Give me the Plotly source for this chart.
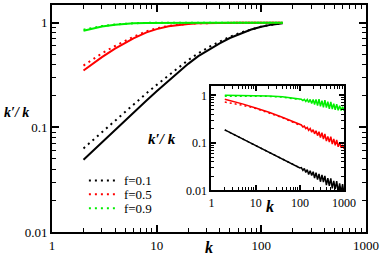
import plotly.graph_objects as go

# ---------------- main panel data ----------------
k_main = [2, 3, 4, 5, 6, 8, 10, 13, 16, 20, 25, 32, 40, 50, 63, 80, 100, 125, 160]
main_f01_line = [0.049, 0.072, 0.095, 0.118, 0.139, 0.181, 0.221, 0.277, 0.330, 0.405, 0.48, 0.56,
                 0.635, 0.715, 0.79, 0.862, 0.915, 0.96, 0.99]
main_f01_dots = [0.063, 0.090, 0.117, 0.142, 0.166, 0.212, 0.255, 0.315, 0.37, 0.44, 0.51, 0.59,
                 0.66, 0.735, 0.805, 0.87, 0.92, 0.96, 0.99]
main_f05_line = [0.35, 0.47, 0.565, 0.645, 0.71, 0.81, 0.87, 0.925, 0.955, 0.975, 0.988, 0.995,
                 0.998, 1.0, 1.0, 1.0, 1.0, 1.0, 1.0]
main_f05_dots = [0.39, 0.51, 0.60, 0.675, 0.735, 0.83, 0.885, 0.935, 0.96, 0.98, 0.99, 0.996,
                 0.999, 1.0, 1.0, 1.0, 1.0, 1.0, 1.0]
main_f09_line = [0.84, 0.92, 0.96, 0.98, 0.99, 0.997, 1.0, 1.0, 1.0, 1.0, 1.0, 1.0,
                 1.0, 1.0, 1.0, 1.0, 1.0, 1.0, 1.0]
main_f09_dots = [0.86, 0.93, 0.965, 0.982, 0.99, 0.998, 1.0, 1.0, 1.0, 1.0, 1.0, 1.0,
                 1.0, 1.0, 1.0, 1.0, 1.0, 1.0, 1.0]

# ---------------- inset data ----------------
k_inset = [2, 3, 5, 10, 20, 40, 70,
           100, 108, 117, 126, 136, 147, 158, 171, 185, 200, 215, 232, 251, 271, 292, 316,
           341, 368, 398, 429, 464, 501, 541, 584, 631, 681, 735, 794, 857, 925, 1000]
ins_f01_line = [0.187, 0.154, 0.122, 0.0877, 0.0634, 0.0458, 0.0353,
                0.0297, 0.0301, 0.0263, 0.0288, 0.0239, 0.0273, 0.0215, 0.0259, 0.0205, 0.0247,
                0.0182, 0.0236, 0.0168, 0.0223, 0.0152, 0.0211, 0.0150, 0.0201, 0.0129, 0.0180,
                0.0124, 0.0178, 0.0110, 0.0158, 0.0106, 0.0157, 0.0093, 0.0140, 0.0091, 0.0136,
                0.0083]
ins_f05_line = [0.83, 0.76, 0.66, 0.54, 0.44, 0.345, 0.275,
                0.240, 0.238, 0.216, 0.2255, 0.1987, 0.2115, 0.1827, 0.2002, 0.1679, 0.1894,
                0.1544, 0.1792, 0.1419, 0.1709, 0.1289, 0.1628, 0.1197, 0.1538, 0.1088, 0.1370,
                0.1033, 0.1351, 0.0939, 0.1213, 0.0892, 0.1146, 0.0828, 0.1020, 0.0787, 0.0906,
                0.0754]
ins_f09_line = [1.0, 1.0, 1.0, 0.99, 0.97, 0.93, 0.87,
                0.820, 0.823, 0.778, 0.820, 0.745, 0.816, 0.706, 0.819, 0.676, 0.814,
                0.640, 0.822, 0.606, 0.828, 0.587, 0.769, 0.555, 0.794, 0.549, 0.733,
                0.520, 0.727, 0.514, 0.664, 0.498, 0.653, 0.482, 0.606, 0.477, 0.571,
                0.476]
k_inset_dots = [2, 3, 5, 10, 20, 40, 70, 100]
ins_f01_dots = [0.187, 0.154, 0.122, 0.0877, 0.0634, 0.0458, 0.0353, 0.0297]
ins_f05_dots = [0.72, 0.68, 0.62, 0.53, 0.43, 0.34, 0.27, 0.235]
ins_f09_dots = [0.96, 0.96, 0.96, 0.96, 0.95, 0.92, 0.86, 0.81]

legend_names = ["f=0.1", "f=0.5", "f=0.9"]
colors = ["#000000", "#ff0000", "#00ee00"]

FONT = "Liberation Serif"
DOT_MAIN = "2px,4px"
DOT_INSET = "2px,3px"

# plot-area geometry (pixels)
PL, PR, PT, PB = 52, 367, 3, 232
PW, PH = PR - PL, PB - PT


def px_x(x):
    return (x - PL) / PW


def px_y(y):
    return (PB - y) / PH


fig = go.Figure()

legend_ids = ["legend", "legend2", "legend3"]
main_lines = [main_f01_line, main_f05_line, main_f09_line]
main_dots = [main_f01_dots, main_f05_dots, main_f09_dots]
for name, c, yl, yd, lid in zip(legend_names, colors, main_lines, main_dots, legend_ids):
    fig.add_trace(go.Scatter(x=k_main, y=yd, mode="lines", name=name, legend=lid,
                             line=dict(color=c, width=2, dash=DOT_MAIN), showlegend=True))
    fig.add_trace(go.Scatter(x=k_main, y=yl, mode="lines", showlegend=False,
                             line=dict(color=c, width=2)))

ins_lines = [ins_f01_line, ins_f05_line, ins_f09_line]
ins_dots = [ins_f01_dots, ins_f05_dots, ins_f09_dots]
for c, yl, yd in zip(colors, ins_lines, ins_dots):
    fig.add_trace(go.Scatter(x=k_inset_dots, y=yd, mode="lines", showlegend=False,
                             line=dict(color=c, width=1.5, dash=DOT_INSET), xaxis="x2", yaxis="y2"))
    fig.add_trace(go.Scatter(x=k_inset, y=yl, mode="lines", showlegend=False,
                             line=dict(color=c, width=1.5), xaxis="x2", yaxis="y2"))


def minor_vals(lo, hi):
    vals = []
    d = lo
    while d < hi:
        for m in range(2, 10):
            vals.append(m * d)
        d *= 10
    return vals


axis_common = dict(type="log", showline=True, linecolor="black", linewidth=2,
                   mirror="allticks", ticks="inside", tickcolor="black", tickwidth=1.5,
                   showgrid=False, zeroline=False)

legend_rows = [180, 194, 208]
legend_common = dict(xanchor="left", yanchor="middle", bgcolor="rgba(0,0,0,0)",
                     borderwidth=0, itemwidth=30, font=dict(family=FONT, size=13))

fig.update_layout(
    width=382, height=265,
    margin=dict(l=PL, r=382 - PR, t=PT, b=265 - PB),
    paper_bgcolor="white", plot_bgcolor="white",
    font=dict(family=FONT, size=13, color="black"),
    xaxis=dict(**axis_common, range=[0, 3], tickmode="array",
               tickvals=[1, 10, 100, 1000], ticktext=["1", "10", "100", "1000"],
               ticklen=7, tickfont=dict(size=13),
               minor=dict(ticks="inside", ticklen=4, tickcolor="black", tickwidth=1,
                          tickmode="array", tickvals=minor_vals(1, 1000))),
    yaxis=dict(**axis_common, range=[-2, 0.17], tickmode="array",
               tickvals=[0.01, 0.1, 1], ticktext=["0.01", "0.1", "1"],
               ticklen=7, tickfont=dict(size=13),
               minor=dict(ticks="inside", ticklen=4, tickcolor="black", tickwidth=1,
                          tickmode="array", tickvals=minor_vals(0.01, 1))),
    xaxis2=dict(**axis_common, domain=[px_x(212), px_x(345)], anchor="y2", range=[0, 3],
                tickmode="array", tickvals=[1, 10, 100, 1000],
                ticktext=["1", "10", "100", "1000"], ticklen=5, tickfont=dict(size=12),
                minor=dict(ticks="inside", ticklen=3, tickcolor="black", tickwidth=1,
                           tickmode="array", tickvals=minor_vals(1, 1000))),
    yaxis2=dict(**axis_common, domain=[px_y(190), px_y(85)], anchor="x2", range=[-2, 0.19],
                tickmode="array", tickvals=[0.01, 0.1, 1], ticktext=["0.01", "0.1", "1"],
                ticklen=5, tickfont=dict(size=12),
                minor=dict(ticks="inside", ticklen=3, tickcolor="black", tickwidth=1,
                           tickmode="array", tickvals=minor_vals(0.01, 1))),
    legend=dict(**legend_common, x=px_x(84), y=px_y(legend_rows[0])),
    legend2=dict(**legend_common, x=px_x(84), y=px_y(legend_rows[1])),
    legend3=dict(**legend_common, x=px_x(84), y=px_y(legend_rows[2])),
    annotations=[
        dict(text="<b><i>k′/ k</i></b>", xref="paper", yref="paper",
             x=px_x(2), y=px_y(111), xanchor="left", showarrow=False,
             font=dict(family=FONT, size=14)),
        dict(text="<b><i>k</i></b>", xref="paper", yref="paper",
             x=px_x(209), y=px_y(258), showarrow=False,
             font=dict(family=FONT, size=16)),
        dict(text="<b><i>k′/ k</i></b>", xref="paper", yref="paper",
             x=px_x(162), y=px_y(138), showarrow=False,
             font=dict(family=FONT, size=15)),
        dict(text="<b><i>k</i></b>", xref="paper", yref="paper",
             x=px_x(277), y=px_y(217), showarrow=False,
             font=dict(family=FONT, size=16)),
    ],
)

fig.write_html("out.html", config={"displayModeBar": False},
               post_script="document.body.style.margin='0';document.body.style.padding='0';")
